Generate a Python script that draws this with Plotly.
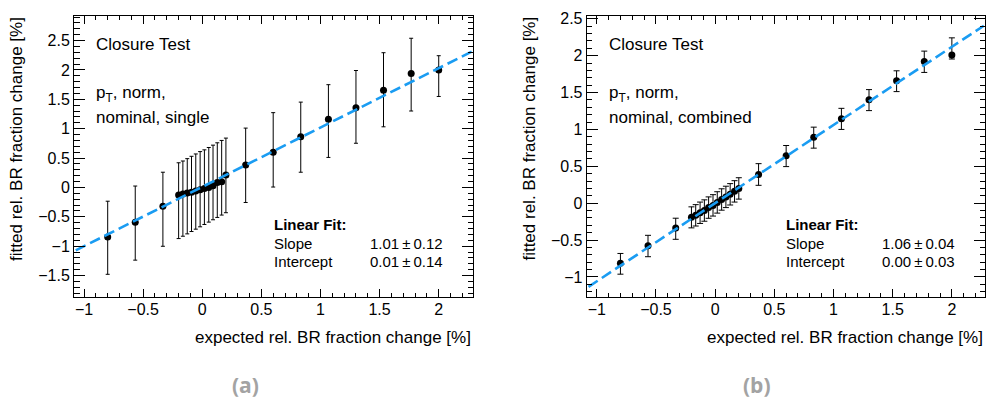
import plotly.graph_objects as go

W, H = 991, 404

# ---------------- data ----------------
# (a) single
a_x = [-0.8, -0.567, -0.333,
       -0.2, -0.164, -0.127, -0.091, -0.055, -0.018, 0.018, 0.055, 0.091, 0.127, 0.164, 0.2,
       0.367, 0.6, 0.833, 1.067, 1.3, 1.533, 1.767, 2.0]
a_y = [-0.845, -0.592, -0.32,
       -0.127, -0.11, -0.095, -0.08, -0.06, -0.04, -0.02, 0.0, 0.03, 0.085, 0.095, 0.21,
       0.382, 0.601, 0.864, 1.161, 1.357, 1.654, 1.94, 2.0]
a_hi = [-0.234, 0.024, 0.259,
        0.42, 0.45, 0.49, 0.53, 0.57, 0.61, 0.64, 0.68, 0.72, 0.76, 0.80, 0.84,
        1.01, 1.273, 1.452, 1.749, 1.99, 2.293, 2.539, 2.242]
a_lo = [-1.478, -1.237, -1.001,
        -0.87, -0.83, -0.79, -0.75, -0.71, -0.67, -0.63, -0.59, -0.55, -0.51, -0.47, -0.43,
        -0.256, 0.007, 0.259, 0.511, 0.752, 1.032, 1.301, 1.548]
a_slope, a_slope_err = 1.01, 0.12
a_icpt, a_icpt_err = 0.01, 0.14

# (b) combined
b_x = a_x
b_y = [-0.816, -0.579, -0.338,
       -0.19, -0.165, -0.13, -0.10, -0.06, -0.03, 0.01, 0.05, 0.085, 0.12, 0.16, 0.2,
       0.389, 0.644, 0.894, 1.144, 1.402, 1.661, 1.92, 2.009]
b_hi = [-0.682, -0.436, -0.204,
        -0.05, -0.02, 0.015, 0.045, 0.085, 0.115, 0.155, 0.195, 0.23, 0.265, 0.305, 0.345,
        0.536, 0.782, 1.031, 1.286, 1.54, 1.795, 2.062, 2.242]
b_lo = [-0.963, -0.726, -0.49,
        -0.335, -0.31, -0.275, -0.245, -0.205, -0.175, -0.135, -0.095, -0.06, -0.025, 0.015, 0.055,
        0.242, 0.496, 0.746, 1.0, 1.255, 1.513, 1.773, 1.955]
b_slope, b_slope_err = 1.06, 0.04
b_icpt, b_icpt_err = 0.00, 0.03

x_ticks = [-1, -0.5, 0, 0.5, 1, 1.5, 2]
a_yticks = [-1.5, -1, -0.5, 0, 0.5, 1, 1.5, 2, 2.5]
b_yticks = [-1, -0.5, 0, 0.5, 1, 1.5, 2, 2.5]

x_title = "expected rel. BR fraction change [%]"
y_title = "fitted rel. BR fraction change [%]"

# ---------------- layout geometry (px) ----------------
FONT = "Liberation Sans, Arial, sans-serif"
panels = [
    dict(x=a_x, y=a_y, hi=a_hi, lo=a_lo, slope=a_slope, se=a_slope_err, icpt=a_icpt, ie=a_icpt_err,
         left=74, right=473, xr=[-1.085, 2.29], yr=[-1.87, 2.92], yt=a_yticks,
         label="single", tag="(a)", capw=2),
    dict(x=b_x, y=b_y, hi=b_hi, lo=b_lo, slope=b_slope, se=b_slope_err, icpt=b_icpt, ie=b_icpt_err,
         left=586.7, right=985, xr=[-1.085, 2.28], yr=[-1.277, 2.54], yt=b_yticks,
         label="combined", tag="(b)", capw=3),
]
TOP, BOT = 11, 296

fig = go.Figure()
annotations = []
LINE_BLUE = "#1a9cf2"

def px(x):
    return x / W

def py(y):
    return 1 - y / H

for i, p in enumerate(panels):
    sfx = "" if i == 0 else str(i + 1)
    xa, ya = "x" + sfx, "y" + sfx
    eplus = [h - v for h, v in zip(p["hi"], p["y"])]
    eminus = [v - l for l, v in zip(p["lo"], p["y"])]
    fig.add_trace(go.Scatter(
        x=p["x"], y=p["y"], mode="markers", xaxis=xa, yaxis=ya,
        marker=dict(color="black", size=7),
        error_y=dict(type="data", symmetric=False, array=eplus, arrayminus=eminus,
                     color="black", thickness=1, width=p["capw"]),
        showlegend=False))
    lx = [p["xr"][0] + 0.015, p["xr"][1] - 0.01]
    ly = [p["slope"] * v + p["icpt"] for v in lx]
    fig.add_trace(go.Scatter(
        x=lx, y=ly, mode="lines", xaxis=xa, yaxis=ya,
        line=dict(color=LINE_BLUE, width=2.6, dash="11px,5px"),
        showlegend=False))

    axis_common = dict(showline=True, linecolor="black", linewidth=1, mirror="allticks",
                       ticks="inside", tickcolor="black", showgrid=False, zeroline=False,
                       tickfont=dict(family=FONT, size=16, color="black"))
    fig.layout["xaxis" + sfx] = dict(
        domain=[px(p["left"]), px(p["right"])], range=p["xr"], anchor=ya,
        tickvals=x_ticks, ticklen=8, tickwidth=1, ticklabelstandoff=-3,
        minor=dict(dtick=0.1, tick0=0, ticks="inside", ticklen=4, tickcolor="black"),
        **axis_common)
    fig.layout["yaxis" + sfx] = dict(
        domain=[py(BOT), py(TOP)], range=p["yr"], anchor=xa,
        tickvals=p["yt"], ticklen=11, tickwidth=1,
        minor=dict(dtick=0.1, tick0=0, ticks="inside", ticklen=5.5, tickcolor="black"),
        **axis_common)

    L, R = p["left"], p["right"]
    # axis titles
    annotations.append(dict(text=x_title, xref="paper", yref="paper", x=px(R), y=py(337),
                            xanchor="right", yanchor="middle", showarrow=False,
                            font=dict(family=FONT, size=17, color="black")))
    annotations.append(dict(text=y_title, xref="paper", yref="paper", x=px(L - 57), y=py(TOP - 1),
                            xanchor="center", yanchor="top", textangle=-90, showarrow=False,
                            font=dict(family=FONT, size=17, color="black")))
    # text block
    tx = L + 20
    annotations.append(dict(text="Closure Test", xref="paper", yref="paper", x=px(tx), y=py(40.5),
                            xanchor="left", yanchor="middle", showarrow=False,
                            font=dict(family=FONT, size=17, color="black")))
    annotations.append(dict(text="p<sub>T</sub>, norm,", xref="paper", yref="paper", x=px(tx), y=py(90),
                            xanchor="left", yanchor="middle", showarrow=False,
                            font=dict(family=FONT, size=17, color="black")))
    annotations.append(dict(text="nominal, " + p["label"], xref="paper", yref="paper", x=px(tx), y=py(114),
                            xanchor="left", yanchor="middle", showarrow=False,
                            font=dict(family=FONT, size=17, color="black")))
    # fit box
    fx = L + 197.5
    vr = R - 28
    annotations.append(dict(text="<b>Linear Fit:</b>", xref="paper", yref="paper", x=px(fx), y=py(222),
                            xanchor="left", yanchor="middle", showarrow=False,
                            font=dict(family=FONT, size=15, color="black")))
    annotations.append(dict(text="Slope", xref="paper", yref="paper", x=px(fx), y=py(241),
                            xanchor="left", yanchor="middle", showarrow=False,
                            font=dict(family=FONT, size=15, color="black")))
    annotations.append(dict(text="Intercept", xref="paper", yref="paper", x=px(fx), y=py(259.5),
                            xanchor="left", yanchor="middle", showarrow=False,
                            font=dict(family=FONT, size=15, color="black")))
    annotations.append(dict(text=f"{p['slope']:.2f}\u2009\u00b1\u2009{p['se']:.2f}", xref="paper", yref="paper",
                            x=px(vr), y=py(241), xanchor="right", yanchor="middle", showarrow=False,
                            font=dict(family=FONT, size=15, color="black")))
    annotations.append(dict(text=f"{p['icpt']:.2f}\u2009\u00b1\u2009{p['ie']:.2f}", xref="paper", yref="paper",
                            x=px(vr), y=py(259.5), xanchor="right", yanchor="middle", showarrow=False,
                            font=dict(family=FONT, size=15, color="black")))
    # panel tag
    annotations.append(dict(text="<b>" + p["tag"] + "</b>", xref="paper", yref="paper",
                            x=px(245 if i == 0 else 757), y=py(385), xanchor="center", yanchor="middle",
                            showarrow=False, font=dict(family="Open Sans, sans-serif", size=21, color="#a3a3a3")))

fig.update_layout(width=W, height=H, margin=dict(l=0, r=0, t=0, b=0),
                  paper_bgcolor="white", plot_bgcolor="white",
                  annotations=annotations, showlegend=False)

fig.write_html("out.html")
